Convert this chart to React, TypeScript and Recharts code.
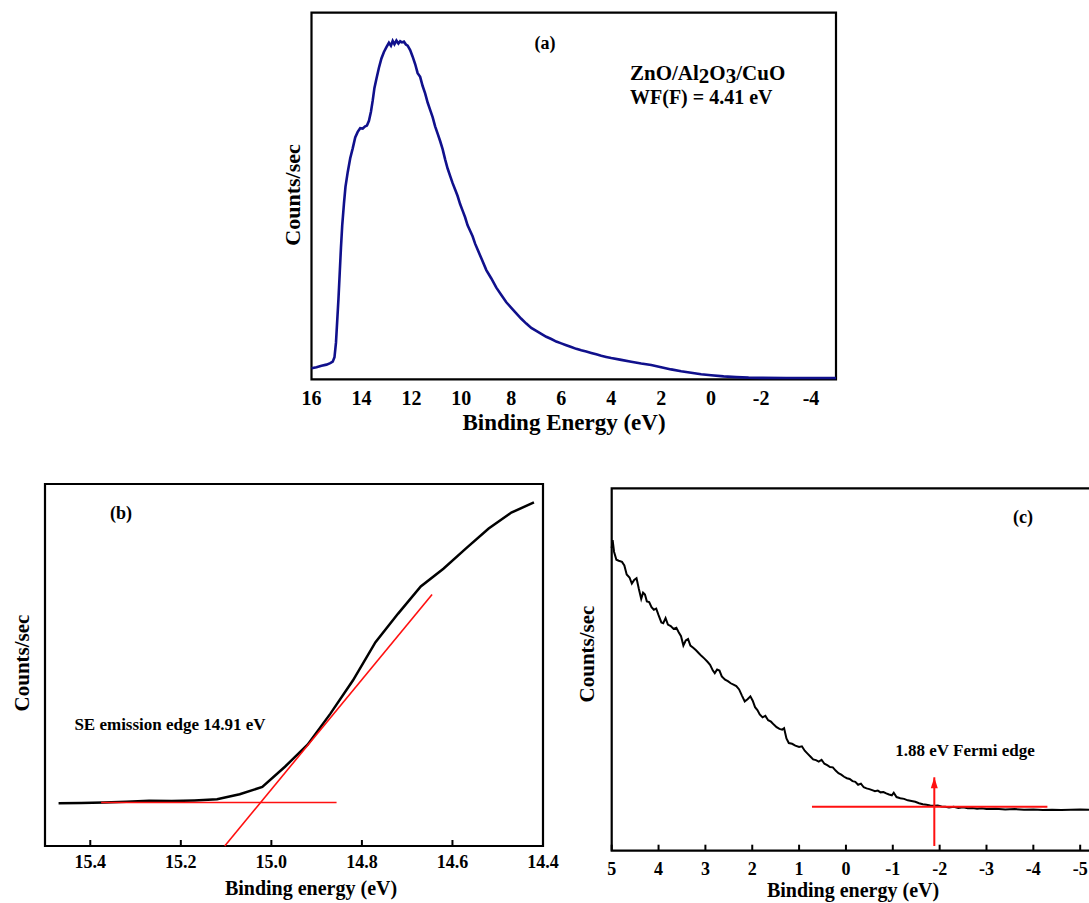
import React from 'react';
import { LineChart, Line, XAxis, YAxis, ReferenceArea } from 'recharts';

const FONT = "'Liberation Serif', 'Times New Roman', serif";
const RED = '#ff1010';

// (a) full UPS spectrum
const energyA = [
  16.0, 15.8, 15.6, 15.4, 15.25, 15.15, 15.08, 15.02, 14.97, 14.92, 14.87, 14.82, 14.77, 14.7,
  14.64, 14.55, 14.45, 14.35, 14.25, 14.15, 14.05, 13.95, 13.85, 13.78, 13.7, 13.62, 13.55,
  13.48, 13.4, 13.3, 13.2, 13.1, 13.0, 12.9, 12.82, 12.75, 12.68, 12.6, 12.52, 12.45, 12.38,
  12.3, 12.22, 12.15, 12.05, 11.95, 11.85, 11.75, 11.65, 11.55, 11.45, 11.35, 11.25, 11.15,
  11.05, 10.95, 10.85, 10.75, 10.65, 10.55, 10.45, 10.35, 10.25, 10.15, 10.05, 9.95, 9.85,
  9.75, 9.65, 9.55, 9.45, 9.35, 9.2, 9.0, 8.8, 8.6, 8.4, 8.2, 8.0, 7.8, 7.6, 7.4, 7.2, 7.0,
  6.8, 6.6, 6.4, 6.2, 6.0, 5.8, 5.6, 5.4, 5.2, 5.0, 4.8, 4.6, 4.4, 4.2, 4.0, 3.6, 3.2, 2.8,
  2.4, 2.0, 1.6, 1.2, 0.8, 0.4, 0.0, -0.5, -1.0, -1.5, -2.0, -3.0, -4.0, -5.0,
];
const countsA = [
  3.0, 3.3, 3.7, 4.0, 4.4, 4.8, 6.0, 10, 16, 22, 29, 36, 42, 48,
  52.5, 56.5, 60.3, 63, 66, 67.5, 68.5, 68.4, 69, 69.2, 70.5, 73, 76,
  79.5, 82, 85, 87.5, 89.3, 90.6, 91.8, 91.0, 92.3, 91.4, 92.4, 91.6, 92.2, 91.9,
  92.1, 91.3, 91.0, 89.8, 88, 86, 83.5, 82.5, 80, 78, 75.5, 73.5, 71.5,
  69, 67, 65, 62.8, 60, 57.5, 55.5, 53.5, 51.8, 50, 47.8, 46, 44.2,
  42, 40.5, 39, 37, 35.4, 33, 29.8, 27.5, 25, 23, 21, 19.5, 18, 16.5, 15.2, 14, 13.2,
  12.4, 11.6, 11.0, 10.3, 9.8, 9.3, 8.8, 8.3, 7.9, 7.6, 7.2, 6.8, 6.4, 6.1, 5.8, 5.3, 4.8, 4.3,
  3.9, 3.3, 2.7, 2.2, 1.8, 1.4, 1.1, 0.8, 0.6, 0.45, 0.4, 0.35, 0.35, 0.35,
];
const ticksA = [16, 14, 12, 10, 8, 6, 4, 2, 0, -2, -4];

// (b) secondary electron cut-off
const energyB = [
  15.47, 15.42, 15.37, 15.32, 15.27, 15.22, 15.17, 15.12, 15.07, 15.02, 14.97, 14.92, 14.87,
  14.82, 14.77, 14.72, 14.67, 14.62, 14.57, 14.52, 14.47, 14.42,
];
const countsB = [
  0.118, 0.119, 0.12, 0.122, 0.125, 0.124, 0.126, 0.129, 0.143, 0.163, 0.219, 0.28, 0.365,
  0.457, 0.563, 0.642, 0.717, 0.766, 0.822, 0.877, 0.921, 0.949,
];
const baseFitB = [
  { x: 15.376, y: 0.12 },
  { x: 14.856, y: 0.12 },
];
const edgeFitB = [
  { x: 15.103, y: 0 },
  { x: 14.645, y: 0.695 },
];
const ticksB = [15.4, 15.2, 15.0, 14.8, 14.6, 14.4];

// (c) Fermi edge region
const energyC = [
  5.0, 4.98, 4.95, 4.9, 4.85, 4.78, 4.73, 4.68, 4.62, 4.57, 4.52, 4.47, 4.42, 4.37, 4.33, 4.29,
  4.25, 4.2, 4.15, 4.1, 4.05, 4.0, 3.94, 3.9, 3.85, 3.8, 3.74, 3.68, 3.62, 3.57, 3.52, 3.47,
  3.42, 3.37, 3.32, 3.26, 3.2, 3.14, 3.08, 3.02, 2.96, 2.9, 2.84, 2.8, 2.75, 2.7, 2.65, 2.58,
  2.52, 2.46, 2.4, 2.34, 2.28, 2.22, 2.16, 2.1, 2.04, 1.99, 1.94, 1.89, 1.84, 1.78, 1.72, 1.66,
  1.6, 1.54, 1.48, 1.42, 1.36, 1.32, 1.27, 1.22, 1.15, 1.08, 1.0, 0.94, 0.88, 0.82, 0.76, 0.7,
  0.64, 0.58, 0.52, 0.46, 0.4, 0.34, 0.28, 0.22, 0.16, 0.1, 0.04, -0.02, -0.08, -0.14, -0.2,
  -0.26, -0.32, -0.38, -0.44, -0.5, -0.56, -0.62, -0.68, -0.74, -0.8, -0.86, -0.92, -0.98,
  -1.02, -1.08, -1.16, -1.24, -1.32, -1.4, -1.48, -1.56, -1.64, -1.72, -1.8, -1.88, -1.96,
  -2.04, -2.12, -2.2, -2.3, -2.4, -2.5, -2.6, -2.7, -2.8, -2.9, -3.0, -3.2, -3.4, -3.6, -3.8,
  -4.0, -4.2, -4.4, -4.6, -4.8, -5.0, -5.2,
];
const countsC = [
  0.835, 0.857, 0.825, 0.803, 0.8, 0.797, 0.787, 0.762, 0.754, 0.737, 0.747, 0.752, 0.722,
  0.695, 0.712, 0.707, 0.688, 0.686, 0.672, 0.665, 0.668, 0.65, 0.63, 0.628, 0.642, 0.624,
  0.62, 0.612, 0.615, 0.603, 0.592, 0.566, 0.58, 0.584, 0.566, 0.56, 0.553, 0.545, 0.537, 0.53,
  0.522, 0.513, 0.497, 0.49, 0.5, 0.497, 0.481, 0.472, 0.468, 0.462, 0.458, 0.454, 0.445,
  0.428, 0.412, 0.418, 0.426, 0.414, 0.396, 0.388, 0.376, 0.368, 0.372, 0.36, 0.356, 0.348,
  0.341, 0.336, 0.334, 0.338, 0.31, 0.297, 0.295, 0.29, 0.286, 0.288, 0.276, 0.268, 0.26,
  0.252, 0.25, 0.246, 0.251, 0.24, 0.236, 0.231, 0.23, 0.221, 0.214, 0.21, 0.204, 0.2, 0.198,
  0.192, 0.19, 0.182, 0.185, 0.175, 0.172, 0.17, 0.167, 0.164, 0.166, 0.161, 0.162, 0.158,
  0.155, 0.153, 0.16, 0.148, 0.145, 0.143, 0.139, 0.137, 0.135, 0.131, 0.128, 0.127, 0.125,
  0.124, 0.125, 0.122, 0.121, 0.119, 0.121, 0.118, 0.12, 0.117, 0.118, 0.116, 0.117, 0.115,
  0.116, 0.114, 0.115, 0.113, 0.114, 0.112, 0.113, 0.112, 0.113, 0.114, 0.113,
];
const baseFitC = [
  { x: 0.725, y: 0.1214 },
  { x: -4.3, y: 0.1214 },
];
const fermiArrow = [
  { x: -1.886, y: 0.013 },
  { x: -1.886, y: 0.2025 },
];
const ticksC = [5, 4, 3, 2, 1, 0, -1, -2, -3, -4, -5];

const zip = (xs: number[], ys: number[]) => xs.map((x, i) => ({ x, y: ys[i] }));
const dataA = zip(energyA, countsA);
const dataB = zip(energyB, countsB);
const dataC = zip(energyC, countsC);

const makeTick = (len: number, dy: number, fs: number, digits: number) => (props: any) => {
  const { x, y, payload } = props;
  return (
    <g>
      {len > 0 && <line x1={x} x2={x} y1={y} y2={y - len} stroke="#000" strokeWidth={2} />}
      <text x={x} y={y + dy} textAnchor="middle" fontSize={fs} fontWeight="bold" fontFamily={FONT} fill="#000">
        {Number(payload.value).toFixed(digits)}
      </text>
    </g>
  );
};

const arrowHead = (props: any) => {
  const { cx, cy, index } = props;
  if (index !== 1) return <g key={`ah-${index}`} />;
  return <polygon key="ah" points={`${cx},${cy} ${cx - 3.5},${cy + 11} ${cx + 3.5},${cy + 11}`} fill={RED} />;
};

function Txt({ x, y, size, rotate, left, children }: any) {
  return (
    <div
      style={{
        position: 'absolute',
        left: x,
        top: y,
        transform: `translate(${left ? '0' : '-50%'}, -50%)${rotate ? ' rotate(-90deg)' : ''}`,
        fontFamily: FONT,
        fontWeight: 'bold',
        fontSize: size,
        lineHeight: 1,
        whiteSpace: 'nowrap',
        color: '#000',
      }}
    >
      {children}
    </div>
  );
}

export default function App() {
  return (
    <div style={{ position: 'relative', width: 1089, height: 903, overflow: 'hidden', background: '#fff' }}>
      <style>{'body{margin:0;overflow:hidden;}'}</style>

      {/* (a) */}
      <div style={{ position: 'absolute', left: 240, top: 0 }}>
        <LineChart width={620} height={450} margin={{ top: 12.7, right: 24, bottom: 0, left: 71.5 }}>
          <XAxis
            type="number"
            dataKey="x"
            domain={[-5, 16]}
            reversed
            ticks={ticksA}
            interval={0}
            height={70.7}
            axisLine={false}
            tickLine={false}
            tickSize={0}
            tickMargin={0}
            tick={makeTick(0, 25.5, 20, 0)}
          />
          <YAxis hide type="number" domain={[0, 100]} />
          <ReferenceArea x1={16} x2={-5} y1={0} y2={100} fill="none" stroke="#000" strokeWidth={2.2} />
          <Line data={dataA} dataKey="y" type="linear" dot={false} stroke="#10108c" strokeWidth={2.6} isAnimationActive={false} />
        </LineChart>
      </div>
      <Txt x={293} y={195} size={22} rotate>Counts/sec</Txt>
      <Txt x={564} y={422} size={23}>Binding Energy (eV)</Txt>
      <Txt x={545} y={43} size={18}>(a)</Txt>
      <Txt x={630} y={73} size={21} left>
        ZnO/Al<span style={{ position: 'relative', top: 3 }}>2</span>O<span style={{ position: 'relative', top: 3 }}>3</span>/CuO
      </Txt>
      <Txt x={630} y={97} size={20} left>WF(F) = 4.41 eV</Txt>

      {/* (b) */}
      <div style={{ position: 'absolute', left: 0, top: 470 }}>
        <LineChart width={560} height={420} margin={{ top: 14, right: 17, bottom: 0, left: 45 }}>
          <XAxis
            type="number"
            dataKey="x"
            domain={[14.4, 15.5]}
            reversed
            ticks={ticksB}
            interval={0}
            height={44}
            axisLine={false}
            tickLine={false}
            tickSize={0}
            tickMargin={0}
            tick={makeTick(6, 22.3, 18, 1)}
          />
          <YAxis hide type="number" domain={[0, 1]} />
          <ReferenceArea x1={15.5} x2={14.4} y1={0} y2={1} fill="none" stroke="#000" strokeWidth={2.2} />
          <Line data={dataB} dataKey="y" type="linear" dot={false} stroke="#000" strokeWidth={2.5} isAnimationActive={false} />
          <Line data={baseFitB} dataKey="y" type="linear" dot={false} stroke={RED} strokeWidth={1.6} isAnimationActive={false} />
          <Line data={edgeFitB} dataKey="y" type="linear" dot={false} stroke={RED} strokeWidth={1.6} isAnimationActive={false} />
        </LineChart>
      </div>
      <Txt x={22} y={663} size={21} rotate>Counts/sec</Txt>
      <Txt x={311} y={887.5} size={20}>Binding energy (eV)</Txt>
      <Txt x={121} y={513} size={18}>(b)</Txt>
      <Txt x={170} y={724} size={17}>SE emission edge 14.91 eV</Txt>

      {/* (c) */}
      <div style={{ position: 'absolute', left: 560, top: 470 }}>
        <LineChart width={560} height={420} margin={{ top: 18.3, right: 11.7, bottom: 0, left: 51.7 }}>
          <XAxis
            type="number"
            dataKey="x"
            domain={[-5.6, 5]}
            reversed
            ticks={ticksC}
            interval={0}
            height={39.3}
            axisLine={false}
            tickLine={false}
            tickSize={0}
            tickMargin={0}
            tick={makeTick(6, 24, 18, 0)}
          />
          <YAxis hide type="number" domain={[0, 1]} />
          <ReferenceArea x1={5} x2={-5.6} y1={0} y2={1} fill="none" stroke="#000" strokeWidth={2.2} />
          <Line data={dataC} dataKey="y" type="linear" dot={false} stroke="#000" strokeWidth={2} isAnimationActive={false} />
          <Line data={baseFitC} dataKey="y" type="linear" dot={false} stroke={RED} strokeWidth={2} isAnimationActive={false} />
          <Line data={fermiArrow} dataKey="y" type="linear" dot={arrowHead} stroke={RED} strokeWidth={2} isAnimationActive={false} />
        </LineChart>
      </div>
      <Txt x={587} y={654} size={21} rotate>Counts/sec</Txt>
      <Txt x={853} y={890} size={20}>Binding energy (eV)</Txt>
      <Txt x={1023} y={517} size={18}>(c)</Txt>
      <Txt x={965} y={750} size={17}>1.88 eV Fermi edge</Txt>
    </div>
  );
}
